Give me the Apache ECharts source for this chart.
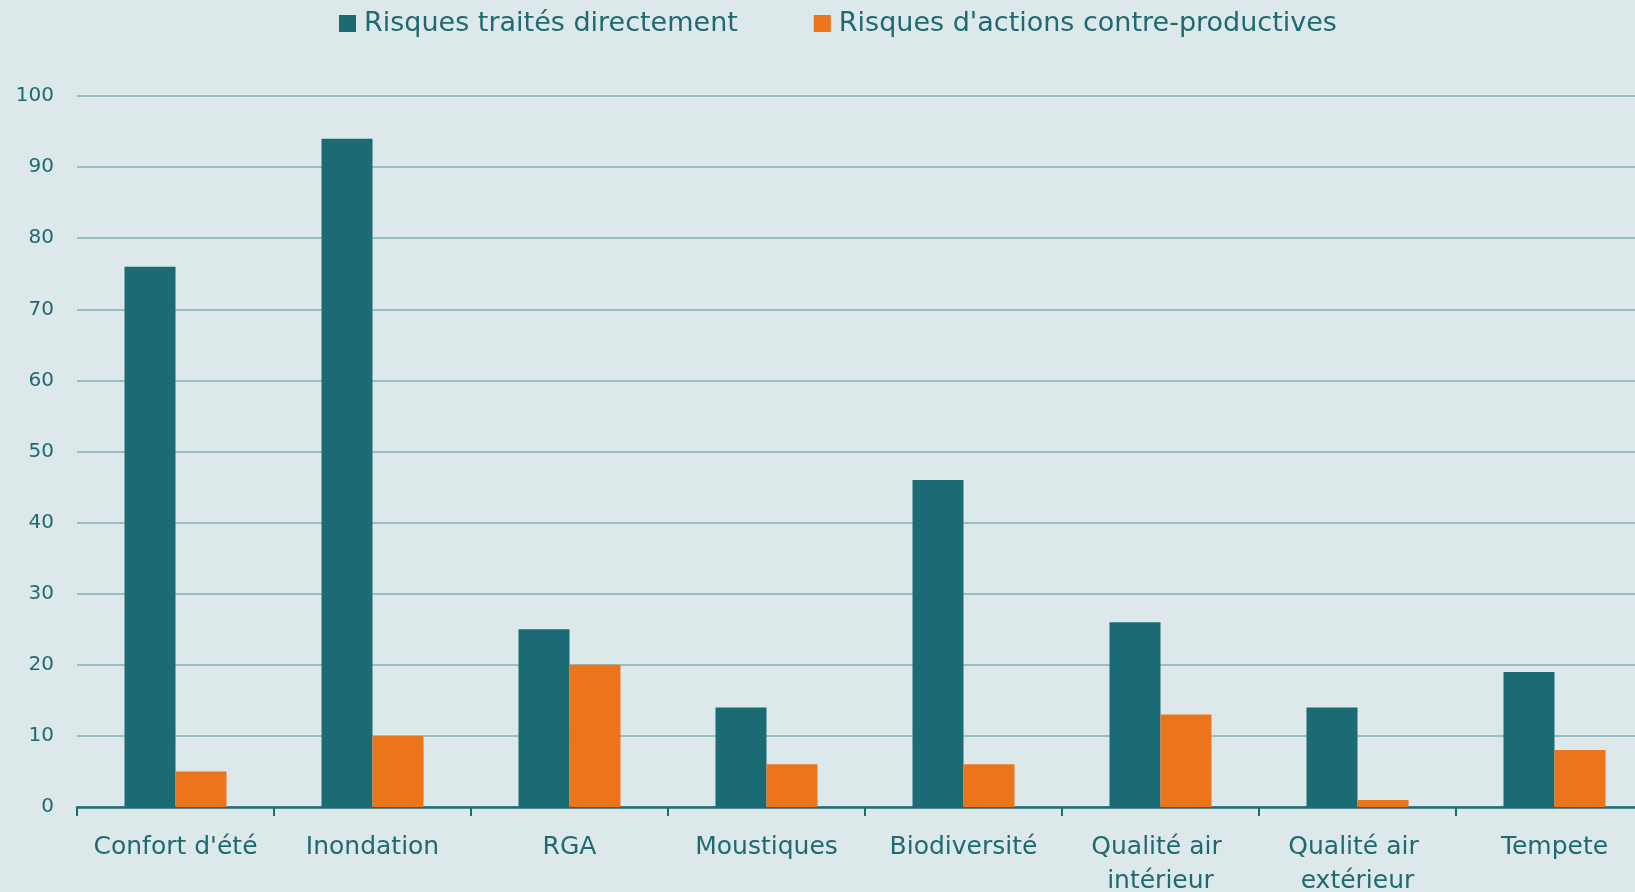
<!DOCTYPE html>
<html>
<head>
<meta charset="utf-8">
<script src="https://cdn.jsdelivr.net/npm/echarts@6/dist/echarts.min.js"></script>
<style>
  html, body { margin: 0; padding: 0; background: #dde8ea; }
  #chart { width: 1635px; height: 892px; }
</style>
</head>
<body>
<div id="chart"></div>
<script>
const categories = ['Confort d\'été', 'Inondation', 'RGA', 'Moustiques', 'Biodiversité', 'Qualité air intérieur', 'Qualité air extérieur', 'Tempete'];
const risquesDirects = [76, 94, 25, 14, 46, 26, 14, 19];
const risquesContre = [5, 10, 20, 6, 6, 13, 1, 8];
const yTicks = [0, 10, 20, 30, 40, 50, 60, 70, 80, 90, 100];

const textColor = '#1e6a72';
const chart = echarts.init(document.getElementById('chart'));

chart.setOption({
  backgroundColor: '#dde8ea',
  animation: false,
  textStyle: { fontFamily: 'DejaVu Sans' },
  legend: {
    top: 5,
    left: 334,
    itemWidth: 17,
    itemHeight: 17,
    itemGap: 76,
    icon: 'rect',
    textStyle: { color: textColor, fontSize: 27, padding: [0, 0, 0, 3] },
    data: ['Risques traités directement', 'Risques d\'actions contre-productives']
  },
  grid: { left: 77, top: 96, width: 1576, height: 711, outerBoundsMode: 'none' },
  xAxis: {
    type: 'category',
    data: categories,
    axisLine: { lineStyle: { color: '#1f6b72', width: 2.5 } },
    axisTick: { show: true, interval: 0, length: 9, lineStyle: { color: '#1f6b72', width: 2 } },
    axisLabel: {
      interval: 0,
      color: textColor,
      fontSize: 25,
      margin: 23,
      lineHeight: 34,
      width: 200,
      overflow: 'break'
    }
  },
  yAxis: {
    type: 'value',
    min: yTicks[0],
    max: yTicks[yTicks.length - 1],
    interval: 10,
    axisLine: { show: false },
    axisTick: { show: false },
    axisLabel: { color: textColor, fontSize: 20, margin: 23 },
    splitLine: { lineStyle: { color: '#97bfc3', width: 2 } }
  },
  series: [
    {
      name: 'Risques traités directement',
      type: 'bar',
      data: risquesDirects,
      barWidth: 51,
      barGap: '0%',
      itemStyle: { color: '#1a6b73' }
    },
    {
      name: 'Risques d\'actions contre-productives',
      type: 'bar',
      data: risquesContre,
      barWidth: 51,
      itemStyle: { color: '#ec741a' }
    }
  ]
});
</script>
</body>
</html>
